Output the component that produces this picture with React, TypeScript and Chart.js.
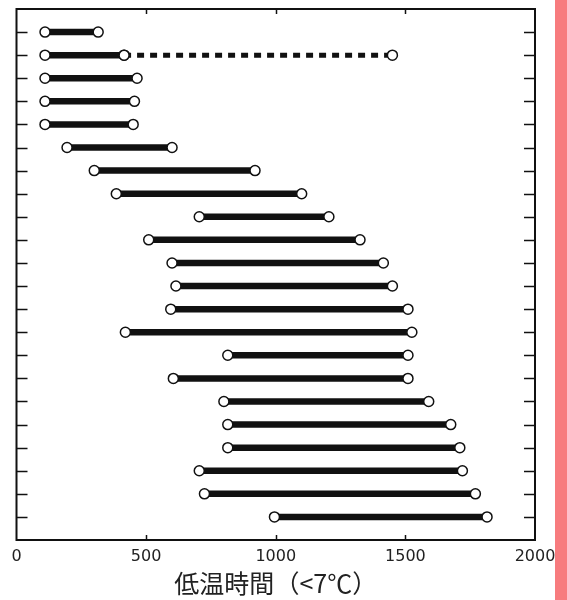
import React, { useEffect, useRef } from "react";
import { Chart, registerables } from "chart.js";

Chart.register(...registerables);

// Row numbers (top to bottom)
const rowIds = [1, 2, 3, 4, 5, 6, 7, 8, 9, 10, 11, 12, 13, 14, 15, 16, 17, 18, 19, 20, 21, 22];
// Start and end of each bar (低温時間, hours < 7°C)
const rowStarts = [110, 110, 110, 110, 110, 195, 300, 385, 705, 510, 600, 615, 595, 420, 815, 605, 800, 815, 815, 705, 725, 995];
const rowEnds = [315, 415, 465, 455, 450, 600, 920, 1100, 1205, 1325, 1415, 1450, 1510, 1525, 1510, 1510, 1590, 1675, 1710, 1720, 1770, 1815];
// Dashed extension on row 2
const dashedRow = 2;
const dashedStart = 415;
const dashedEnd = 1450;
// X axis ticks
const xTicks = [0, 500, 1000, 1500, 2000];
const xTickLabels = ["0", "500", "1000", "1500", "2000"];
const xInnerTicks = [500, 1000, 1500];
const xTitle = "低温時間（<7℃）";

const INK = "#111111";

const frameTicksPlugin = {
  id: "frameTicks",
  afterDraw(chart: any) {
    const { ctx, chartArea } = chart;
    const xs = chart.scales.x;
    const ys = chart.scales.y;
    ctx.save();
    ctx.strokeStyle = INK;
    ctx.lineWidth = 2;
    ctx.strokeRect(chartArea.left, chartArea.top, chartArea.right - chartArea.left, chartArea.bottom - chartArea.top);
    ctx.lineWidth = 1.5;
    ctx.beginPath();
    rowIds.forEach((r) => {
      const y = Math.round(ys.getPixelForValue(r)) + 0.5;
      ctx.moveTo(chartArea.left, y);
      ctx.lineTo(chartArea.left + 11, y);
      ctx.moveTo(chartArea.right, y);
      ctx.lineTo(chartArea.right - 11, y);
    });
    xInnerTicks.forEach((v) => {
      const x = Math.round(xs.getPixelForValue(v)) + 0.5;
      ctx.moveTo(x, chartArea.bottom);
      ctx.lineTo(x, chartArea.bottom - 5);
      ctx.moveTo(x, chartArea.top);
      ctx.lineTo(x, chartArea.top + 5);
    });
    ctx.stroke();
    ctx.restore();
  },
};

export default function App() {
  const canvasRef = useRef<HTMLCanvasElement | null>(null);

  useEffect(() => {
    if (!canvasRef.current) return;
    const pointStyle = {
      pointRadius: 5,
      pointHoverRadius: 5,
      pointBackgroundColor: "#ffffff",
      pointBorderColor: INK,
      pointBorderWidth: 1.5,
    };
    const datasets: any[] = rowIds.map((r, i) => ({
      label: "row" + r,
      data: [
        { x: rowStarts[i], y: r },
        { x: rowEnds[i], y: r },
      ],
      borderColor: INK,
      borderWidth: 6.5,
      borderCapStyle: "butt",
      fill: false,
      tension: 0,
      order: 0,
      ...pointStyle,
    }));
    datasets.push({
      label: "dashed",
      data: [
        { x: dashedStart, y: dashedRow },
        { x: dashedEnd, y: dashedRow },
      ],
      borderColor: INK,
      borderWidth: 5,
      borderDash: [7, 6],
      borderCapStyle: "butt",
      fill: false,
      order: 1,
      ...pointStyle,
    });

    const chart = new Chart(canvasRef.current, {
      type: "line",
      data: { datasets },
      options: {
        responsive: false,
        animation: false,
        layout: { padding: { left: 16.5, right: 32, top: 9, bottom: 0 } },
        plugins: { legend: { display: false }, tooltip: { enabled: false } },
        scales: {
          x: {
            type: "linear",
            min: 0,
            max: 2000,
            afterBuildTicks: (scale: any) => {
              scale.ticks = xTicks.map((v) => ({ value: v }));
            },
            afterFit: (scale: any) => {
              scale.height = 60;
            },
            grid: { display: false, drawTicks: false },
            border: { display: false },
            ticks: {
              color: "#222222",
              padding: 7,
              font: { family: "DejaVu Sans", size: 16 },
              maxRotation: 0,
              callback: (value: any) => {
                const idx = xTicks.indexOf(Number(value));
                return idx >= 0 ? xTickLabels[idx] : "";
              },
            },
            title: {
              display: true,
              text: xTitle,
              color: "#222222",
              font: { family: "Noto Sans CJK JP", size: 25 },
              padding: { top: 0, bottom: 2 },
            },
          },
          y: {
            type: "linear",
            min: 0,
            max: 23,
            reverse: true,
            display: false,
          },
        },
      },
      plugins: [frameTicksPlugin],
    });
    return () => chart.destroy();
  }, []);

  return (
    <div style={{ position: "fixed", left: 0, top: 0, width: 567, height: 600, background: "#ffffff", overflow: "hidden" }}>
      <canvas ref={canvasRef} width={567} height={600} style={{ display: "block", width: 567, height: 600 }} />
      <div style={{ position: "absolute", left: 555, top: 0, width: 12, height: 600, background: "#f77b7e" }} />
    </div>
  );
}
